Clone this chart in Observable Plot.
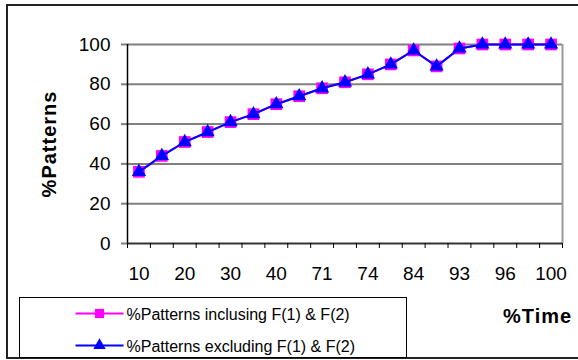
<!DOCTYPE html>
<html>
<head>
<meta charset="utf-8">
<script src="https://cdn.jsdelivr.net/npm/d3@7"></script>
<script src="https://cdn.jsdelivr.net/npm/@observablehq/plot@0.6"></script>
<style>
  body { margin: 0; background: #fff; }
  #chart { width: 578px; height: 360px; overflow: hidden; }
</style>
</head>
<body>
<div id="chart"></div>
<script>
// ---- data ----
const categories = ["10","15","20","25","30","35","40","55","71","73","74","79","84","89","93","95","96","98","100"];
const inclusing = [36, 44, 51, 56, 61, 65, 70, 74, 78, 81, 85, 90, 97, 89, 98, 100, 100, 100, 100];
const excluding = [36, 44, 51, 56, 61, 65, 70, 74, 78, 81, 85, 90, 97, 89, 98, 100, 100, 100, 100];
const seriesNames = ["%Patterns inclusing F(1) & F(2)", "%Patterns excluding F(1) & F(2)"];
const seriesColors = ["#FF00FF", "#0000FF"];
const seriesSymbols = ["square", "triangle"];
const yTicks = [0, 20, 40, 60, 80, 100];
const xTitle = "%Time";
const yTitle = "%Patterns";

const FONT = "'Liberation Sans', Arial, sans-serif";
const n = categories.length;
const idx = d3.range(n);
const labelIdx = idx.filter(i => i % 2 === 0);
const boundaries = d3.range(-0.5, n, 1);

const chart = Plot.plot({
  width: 578,
  height: 360,
  marginLeft: 127,
  marginRight: 16,
  marginTop: 44,
  marginBottom: 117,
  style: { fontFamily: FONT, fontSize: "19px", color: "#000", background: "#fff", overflow: "visible" },
  x: { type: "linear", domain: [-0.5, n - 0.5] },
  y: { domain: [0, 100] },
  marks: [
    Plot.gridY(yTicks.filter(d => d > 0), { stroke: "#808080", strokeOpacity: 1, strokeWidth: 2 }),
    Plot.ruleX([n - 0.5], { stroke: "#999", strokeWidth: 2 }),
    Plot.axisY(yTicks, { tickSize: 6, tickPadding: 11, stroke: "#808080", strokeWidth: 2, fontSize: 19, label: null, tickFormat: d => String(d) }),
    Plot.ruleX([-0.5], { stroke: "#000", strokeWidth: 1.5 }),
    Plot.ruleY([0], { stroke: "#333", strokeWidth: 2 }),
    Plot.axisX(boundaries, { tickSize: 5, tickPadding: 0, stroke: "#000", tickFormat: () => "", label: null }),
    Plot.axisX(labelIdx, { tickSize: 0, tickPadding: 23, fontSize: 19, tickFormat: i => categories[i], label: null }),
    Plot.lineY(inclusing, { x: (d, i) => i, y: d => d, stroke: seriesColors[0], strokeWidth: 2 }),
    Plot.dot(inclusing, { x: (d, i) => i, y: d => d, symbol: seriesSymbols[0], r: 6.6, fill: seriesColors[0], stroke: "none" }),
    Plot.lineY(excluding, { x: (d, i) => i, y: d => d, stroke: seriesColors[1], strokeWidth: 2 }),
    Plot.dot(excluding, { x: (d, i) => i, y: d => d, symbol: seriesSymbols[1], r: 5.3, fill: seriesColors[1], stroke: "none" })
  ]
});

document.getElementById("chart").appendChild(chart);

const svg = d3.select(chart);
// outer chart border
svg.append("rect").attr("x", 7).attr("y", 5).attr("width", 600).attr("height", 353)
  .attr("fill", "none").attr("stroke", "#222").attr("stroke-width", 2);

// axis titles
svg.append("text").attr("transform", "translate(56,144) rotate(-90)")
  .attr("text-anchor", "middle").attr("font-family", FONT).attr("font-weight", "bold")
  .attr("font-size", 20).attr("letter-spacing", 1).attr("fill", "#000").text(yTitle);
svg.append("text").attr("x", 503).attr("y", 323).attr("text-anchor", "start")
  .attr("font-family", FONT).attr("font-weight", "bold")
  .attr("font-size", 20).attr("letter-spacing", 1).attr("fill", "#000").text(xTitle);

// legend
const lg = svg.append("g").attr("transform", "translate(19.5,297.5)");
lg.append("rect").attr("width", 387).attr("height", 60).attr("fill", "#fff").attr("stroke", "#000").attr("stroke-width", 1);
const symSize = [Math.PI * 5.2 * 5.2, Math.PI * 4.6 * 4.6];
seriesNames.forEach((name, k) => {
  const cy = 16 + k * 32;
  lg.append("line").attr("x1", 56).attr("x2", 104).attr("y1", cy).attr("y2", cy)
    .attr("stroke", seriesColors[k]).attr("stroke-width", 2);
  const sym = k === 0 ? d3.symbolSquare : d3.symbolTriangle;
  lg.append("path").attr("d", d3.symbol(sym, symSize[k])()).attr("transform", `translate(80,${cy})`)
    .attr("fill", seriesColors[k]);
  lg.append("text").attr("x", 107).attr("y", cy + 6).attr("text-anchor", "start")
    .attr("font-family", FONT).attr("font-size", 16)
    .attr("fill", "#000").text(name);
});
</script>
</body>
</html>
